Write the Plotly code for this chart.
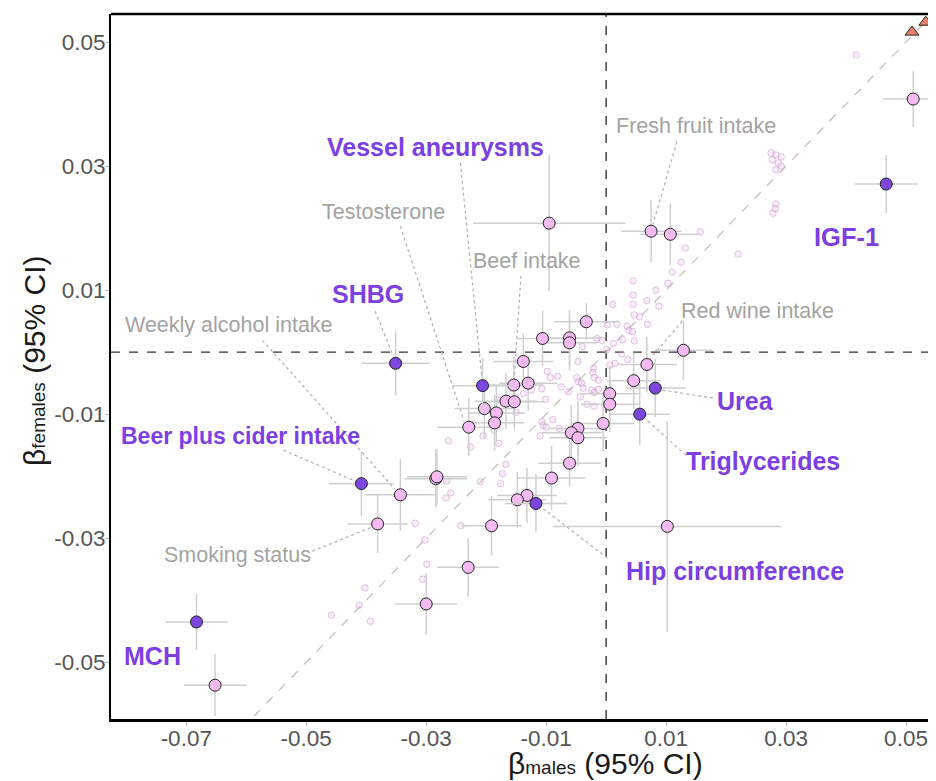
import plotly.graph_objects as go

# ---------------- data ----------------
# highlighted traits with CI (pink)
pink_x = [0.0512, -0.0095, 0.0075, 0.0107, -0.0033, -0.0106, -0.0061, -0.0061, -0.0138, 0.0129,
          0.0068, 0.0046, -0.0154, -0.0130, -0.0167, -0.0153, -0.0203, -0.0183, -0.0186, -0.0229,
          0.0006, 0.0006, -0.0005, -0.0047, -0.0058, -0.0047, -0.0061, -0.0091, -0.0132, -0.0148,
          -0.0191, -0.0230, -0.0300, -0.0343, -0.0381, -0.0284, -0.0282, -0.0652, 0.0102]
pink_y = [0.0408, 0.0208, 0.0195, 0.0190, 0.0049, 0.0022, 0.0023, 0.0015, -0.0015, 0.0003,
          -0.0020, -0.0046, -0.0053, -0.0050, -0.0079, -0.0080, -0.0091, -0.0098, -0.0114, -0.0121,
          -0.0067, -0.0084, -0.0115, -0.0123, -0.0130, -0.0138, -0.0179, -0.0203, -0.0231, -0.0238,
          -0.0280, -0.0347, -0.0406, -0.0230, -0.0277, -0.0204, -0.0201, -0.0537, -0.0281]
pink_ex = [0.0050, 0.0127, 0.0050, 0.0050, 0.0053, 0.0045, 0.0050, 0.0048, 0.0050, 0.0048,
           0.0050, 0.0045, 0.0050, 0.0048, 0.0052, 0.0050, 0.0050, 0.0048, 0.0050, 0.0052,
           0.0050, 0.0048, 0.0052, 0.0050, 0.0050, 0.0048, 0.0052, 0.0057, 0.0050, 0.0048,
           0.0050, 0.0052, 0.0052, 0.0060, 0.0050, 0.0052, 0.0050, 0.0052, 0.0190]
pink_ey = [0.0045, 0.0110, 0.0050, 0.0050, 0.0030, 0.0045, 0.0045, 0.0045, 0.0045, 0.0048,
           0.0045, 0.0045, 0.0045, 0.0045, 0.0045, 0.0045, 0.0047, 0.0045, 0.0045, 0.0047,
           0.0045, 0.0045, 0.0045, 0.0045, 0.0045, 0.0045, 0.0038, 0.0052, 0.0045, 0.0045,
           0.0048, 0.0047, 0.0050, 0.0058, 0.0047, 0.0047, 0.0045, 0.0050, 0.0170]

# labelled traits (dark purple)
dark_names = ["IGF-1", "SHBG", "Vessel aneurysms", "Urea", "Triglycerides",
              "Hip circumference", "Beer plus cider intake", "MCH"]
dark_x = [0.0467, -0.0351, -0.0206, 0.0082, 0.0056, -0.0117, -0.0408, -0.0683]
dark_y = [0.0271, -0.0018, -0.0054, -0.0058, -0.0100, -0.0244, -0.0212, -0.0435]
dark_ex = [0.0052, 0.0057, 0.0050, 0.0050, 0.0050, 0.0052, 0.0054, 0.0052]
dark_ey = [0.0047, 0.0052, 0.0045, 0.0047, 0.0050, 0.0047, 0.0052, 0.0045]

# non-significant traits (faded)
faded_x = [0.0417, 0.0275, 0.0283, 0.0292, 0.0277, 0.0287, 0.0283, 0.0292, 0.0283, 0.0282,
           0.0278, 0.0220, 0.0157, 0.0132, 0.0125, 0.0110, 0.0103, 0.0083, 0.0045, 0.0045,
           0.0068, 0.0011, 0.0045, 0.0088, 0.0047, 0.0056, 0.0002, 0.0018, 0.0035, 0.0069,
           0.0038, 0.0028, 0.0044, 0.0047, 0.0012, -0.0015, -0.0007, -0.0040, 0.0001, 0.0026,
           0.0036, 0.0006, 0.0015, -0.0047, -0.0098, -0.0093, -0.0081, -0.0021, -0.0022, -0.0020,
           -0.0013, -0.0049, -0.0046, -0.0041, -0.0038, -0.0107, -0.0075, -0.0063, -0.0013, -0.0024,
           -0.0020, -0.0101, -0.0043, -0.0032, -0.0020, -0.0125, -0.0138, -0.0176, -0.0150, -0.0205,
           -0.0179, -0.0226, -0.0263, -0.0107, -0.0105, -0.0100, -0.0089, -0.0078, -0.0110, -0.0187,
           -0.0167, -0.0173, -0.0176, -0.0210, -0.0266, -0.0259, -0.0267, -0.0318, -0.0242, -0.0302,
           -0.0299, -0.0306, -0.0402, -0.0412, -0.0458, -0.0393]
faded_y = [0.0479, 0.0321, 0.0318, 0.0315, 0.0310, 0.0305, 0.0294, 0.0300, 0.0239, 0.0231,
           0.0224, 0.0158, 0.0194, 0.0168, 0.0145, 0.0129, 0.0111, 0.0100, 0.0115, 0.0092,
           0.0083, 0.0077, 0.0077, 0.0074, 0.0060, 0.0057, 0.0044, 0.0045, 0.0042, 0.0045,
           0.0035, 0.0020, 0.0033, 0.0018, 0.0014, 0.0022, 0.0019, 0.0009, 0.0004, -0.0003,
           -0.0012, -0.0021, -0.0018, -0.0015, -0.0031, -0.0041, -0.0039, -0.0026, -0.0033, -0.0041,
           -0.0045, -0.0041, -0.0048, -0.0050, -0.0058, -0.0059, -0.0056, -0.0064, -0.0060, -0.0061,
           -0.0065, -0.0076, -0.0072, -0.0084, -0.0087, -0.0061, -0.0067, -0.0077, -0.0097, -0.0135,
           -0.0147, -0.0153, -0.0143, -0.0112, -0.0118, -0.0121, -0.0109, -0.0123, -0.0135, -0.0126,
           -0.0181, -0.0196, -0.0212, -0.0209, -0.0208, -0.0227, -0.0235, -0.0276, -0.0280, -0.0303,
           -0.0342, -0.0366, -0.0380, -0.0408, -0.0424, -0.0434]

# out-of-range traits (triangles)
tri_x = [0.0510, 0.0533]
tri_y = [0.0516, 0.0532]

# tick values
tick_vals = [-0.07, -0.05, -0.03, -0.01, 0.01, 0.03, 0.05]
tick_text = ["-0.07", "-0.05", "-0.03", "-0.01", "0.01", "0.03", "0.05"]

# labels: text, label x, label y, line start x, y, line end x, y, highlighted, font size
labels = [
    ("Vessel aneurysms", -0.0285, 0.0331, -0.0243, 0.0305, -0.0207, -0.0042, True, 25),
    ("Fresh fruit intake", 0.0150, 0.0365, 0.0118, 0.0339, 0.0078, 0.0206, False, 21.5),
    ("Testosterone", -0.0372, 0.0226, -0.0343, 0.0203, -0.0237, -0.0111, False, 21.5),
    ("Beef intake", -0.0132, 0.0147, -0.0142, 0.0123, -0.0153, -0.0040, False, 21.5),
    ("SHBG", -0.0397, 0.0094, -0.0385, 0.0066, -0.0355, -0.0006, True, 25),
    ("Weekly alcohol intake", -0.0628, 0.0044, -0.0573, 0.0019, -0.0352, -0.0221, False, 21.5),
    ("Red wine intake", 0.0253, 0.0066, 0.0127, 0.0050, 0.0073, -0.0011, False, 21.5),
    ("IGF-1", 0.0400, 0.0185, None, None, None, None, True, 25.5),
    ("Urea", 0.0232, -0.0079, 0.0178, -0.0074, 0.0093, -0.0061, True, 25),
    ("Beer plus cider intake", -0.0610, -0.0135, -0.0538, -0.0158, -0.0418, -0.0208, True, 23),
    ("Triglycerides", 0.0262, -0.0176, 0.0133, -0.0166, 0.0065, -0.0107, True, 25),
    ("Smoking status", -0.0615, -0.0327, -0.0490, -0.0321, -0.0390, -0.0282, False, 21.5),
    ("Hip circumference", 0.0215, -0.0353, 0.0002, -0.0332, -0.0108, -0.0250, True, 25),
    ("MCH", -0.0757, -0.0490, None, None, None, None, True, 25),
]

PURPLE = "#7B3FE4"
DARK_FILL = "#7D46DF"
PINK_FILL = "#F6BAF3"
GRAY_TXT = "#A3A3A3"
FONT = "Liberation Sans, Arial, sans-serif"

fig = go.Figure()

# diagonal identity line
fig.add_trace(go.Scatter(x=[-0.09, 0.07], y=[-0.09, 0.07], mode="lines",
                         line=dict(color="#C9BDBD", width=1.3, dash="dash"),
                         hoverinfo="skip", showlegend=False))

fig.add_trace(go.Scatter(x=faded_x, y=faded_y, mode="markers",
                         marker=dict(size=6.5, color="rgba(246,190,243,0.3)",
                                     line=dict(color="rgba(160,120,170,0.45)", width=0.8)),
                         showlegend=False))

fig.add_trace(go.Scatter(x=pink_x, y=pink_y, mode="markers",
                         error_x=dict(type="data", array=pink_ex, color="#CFCFCF", thickness=1.5, width=0),
                         error_y=dict(type="data", array=pink_ey, color="#CFCFCF", thickness=1.5, width=0),
                         marker=dict(size=12, color=PINK_FILL, line=dict(color="#222", width=1)),
                         showlegend=False))

fig.add_trace(go.Scatter(x=dark_x, y=dark_y, mode="markers", text=dark_names,
                         error_x=dict(type="data", array=dark_ex, color="#CFCFCF", thickness=1.5, width=0),
                         error_y=dict(type="data", array=dark_ey, color="#CFCFCF", thickness=1.5, width=0),
                         marker=dict(size=12, color=DARK_FILL, line=dict(color="#222", width=1)),
                         showlegend=False))

fig.add_trace(go.Scatter(x=tri_x, y=tri_y, mode="markers",
                         marker=dict(symbol="triangle-up", size=12, color="#E8806D",
                                     line=dict(color="#222", width=1)),
                         cliponaxis=False, showlegend=False))

shapes = [
    dict(type="line", xref="x", yref="paper", x0=0, x1=0, y0=0, y1=1,
         line=dict(color="#333", width=1.4, dash="dash"), layer="below"),
    dict(type="line", xref="paper", yref="y", x0=0, x1=1, y0=0, y1=0,
         line=dict(color="#333", width=1.4, dash="dash"), layer="below"),
    dict(type="line", xref="paper", yref="paper", x0=0, x1=1, y0=1, y1=1,
         line=dict(color="black", width=2.5)),
]
annotations = []
for (txt, lx, ly, sx, sy, ex, ey, hi, fs) in labels:
    if sx is not None:
        shapes.append(dict(type="line", xref="x", yref="y", x0=sx, y0=sy, x1=ex, y1=ey,
                           line=dict(color="#AFAFAF", width=1.2, dash="dot"), layer="below"))
    if hi:
        annotations.append(dict(x=lx, y=ly, xref="x", yref="y", text="<b>" + txt + "</b>",
                                showarrow=False, font=dict(size=fs, color=PURPLE, family=FONT)))
    else:
        annotations.append(dict(x=lx, y=ly, xref="x", yref="y", text=txt,
                                showarrow=False, font=dict(size=fs, color=GRAY_TXT, family=FONT)))

# axis titles
annotations.append(dict(x=0.599, y=-0.063, xref="paper", yref="paper", yanchor="middle",
                        text="β<span style='font-size:19px'>males</span> (95% CI)",
                        showarrow=False, borderpad=0,
                        font=dict(size=30, color="#1a1a1a", family=FONT)))
annotations.append(dict(x=-0.092, y=0.508, xref="paper", yref="paper", xanchor="center",
                        text="β<span style='font-size:19px'>females</span> (95% CI)", textangle=-90,
                        showarrow=False, borderpad=0,
                        font=dict(size=30, color="#1a1a1a", family=FONT)))

# page has an 8px body margin: figure is 928x773 so that it fills the 936x781 window
fig.update_layout(
    width=928, height=773,
    margin=dict(l=103, r=0, t=6, b=62),
    paper_bgcolor="white", plot_bgcolor="white",
    shapes=shapes, annotations=annotations,
    font=dict(family=FONT),
)
fig.update_xaxes(range=[-0.08255, 0.055], tickvals=tick_vals, ticktext=tick_text,
                 showgrid=False, zeroline=False, showline=True, linecolor="black", linewidth=3,
                 ticks="outside", ticklen=4, tickcolor="#BBBBBB", tickwidth=1,
                 ticklabelstandoff=-7,
                 tickfont=dict(size=22.5, color="#555555", family=FONT))
fig.update_yaxes(range=[-0.05915, 0.05452], tickvals=tick_vals, ticktext=tick_text,
                 showgrid=False, zeroline=False, showline=True, linecolor="black", linewidth=2,
                 ticks="outside", ticklen=4, tickcolor="#BBBBBB", tickwidth=1,
                 ticklabelstandoff=-5,
                 tickfont=dict(size=22.5, color="#555555", family=FONT))

fig.write_html("out.html")
